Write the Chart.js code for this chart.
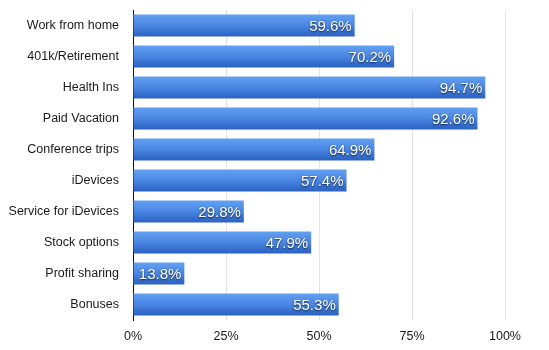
<!DOCTYPE html>
<html>
<head>
<meta charset="utf-8">
<script src="https://cdn.jsdelivr.net/npm/chart.js@4"></script>
<style>
  html, body { margin: 0; padding: 0; background: #fff; }
  #wrap { width: 549px; height: 350px; }
</style>
</head>
<body>
<div id="wrap"><canvas id="benefitsChart" width="549" height="350"></canvas></div>
<script>
const categories = ['Work from home', '401k/Retirement', 'Health Ins', 'Paid Vacation', 'Conference trips',
    'iDevices', 'Service for iDevices', 'Stock options', 'Profit sharing', 'Bonuses'];
const percentValues = [59.6, 70.2, 94.7, 92.6, 64.9, 57.4, 29.8, 47.9, 13.8, 55.3];
const tickValues = [0, 25, 50, 75, 100];

const BAR_FRACTION = 0.71;
const labelFont = '"Liberation Sans", Arial, Helvetica, sans-serif';

// Gradient per bar: light blue on top, darker at the bottom
function barGradient(context) {
    const chart = context.chart;
    const yScale = chart.scales.y;
    if (!chart.chartArea || !yScale) return '#4a85dc';
    const center = yScale.getPixelForValue(context.dataIndex);
    const pitch = Math.abs(yScale.getPixelForValue(1) - yScale.getPixelForValue(0));
    const half = pitch * BAR_FRACTION / 2;
    const g = chart.ctx.createLinearGradient(0, center - half, 0, center + half);
    g.addColorStop(0, '#62a0f2');
    g.addColorStop(0.5, '#4a86e2');
    g.addColorStop(1, '#2a61c2');
    return g;
}

// White value labels with a soft dark shadow at the end of each bar
const valueLabels = {
    id: 'valueLabels',
    afterDatasetsDraw(chart) {
        const ctx = chart.ctx;
        const meta = chart.getDatasetMeta(0);
        ctx.save();
        ctx.font = '15px ' + labelFont;
        ctx.textAlign = 'right';
        ctx.textBaseline = 'middle';
        ctx.fillStyle = '#ffffff';
        ctx.shadowColor = 'rgba(0, 0, 0, 0.75)';
        ctx.shadowBlur = 2;
        ctx.shadowOffsetX = 0;
        ctx.shadowOffsetY = 1;
        meta.data.forEach((bar, i) => {
            ctx.fillText(percentValues[i].toFixed(1) + '%', bar.x - 3, bar.y + 1);
        });
        ctx.restore();
    }
};

new Chart(document.getElementById('benefitsChart'), {
    type: 'bar',
    data: {
        labels: categories,
        datasets: [{
            data: percentValues,
            backgroundColor: barGradient,
            borderWidth: 0,
            barPercentage: BAR_FRACTION,
            categoryPercentage: 1
        }]
    },
    options: {
        indexAxis: 'y',
        responsive: false,
        animation: false,
        layout: { padding: { top: 10, right: 44, bottom: 0, left: 0 } },
        plugins: {
            legend: { display: false },
            tooltip: { enabled: false }
        },
        scales: {
            x: {
                min: 0,
                max: 100,
                afterBuildTicks: (scale) => { scale.ticks = tickValues.map(v => ({ value: v })); },
                afterFit: (scale) => { scale.height = 30; scale.paddingLeft = 0; scale.paddingRight = 0; },
                grid: { color: '#e4e4e4', lineWidth: 1, drawTicks: false },
                border: { display: false },
                ticks: {
                    padding: 9,
                    color: '#1a1a1a',
                    font: { size: 12.5, family: labelFont },
                    callback: (v) => v + '%'
                }
            },
            y: {
                afterFit: (scale) => { scale.width = 133; scale.paddingTop = 0; scale.paddingBottom = 0; },
                grid: { display: false, drawTicks: false },
                border: { display: true, color: '#111', width: 1 },
                ticks: {
                    padding: 14,
                    color: '#1a1a1a',
                    font: { size: 12.5, family: labelFont }
                }
            }
        }
    },
    plugins: [valueLabels]
});
</script>
</body>
</html>
